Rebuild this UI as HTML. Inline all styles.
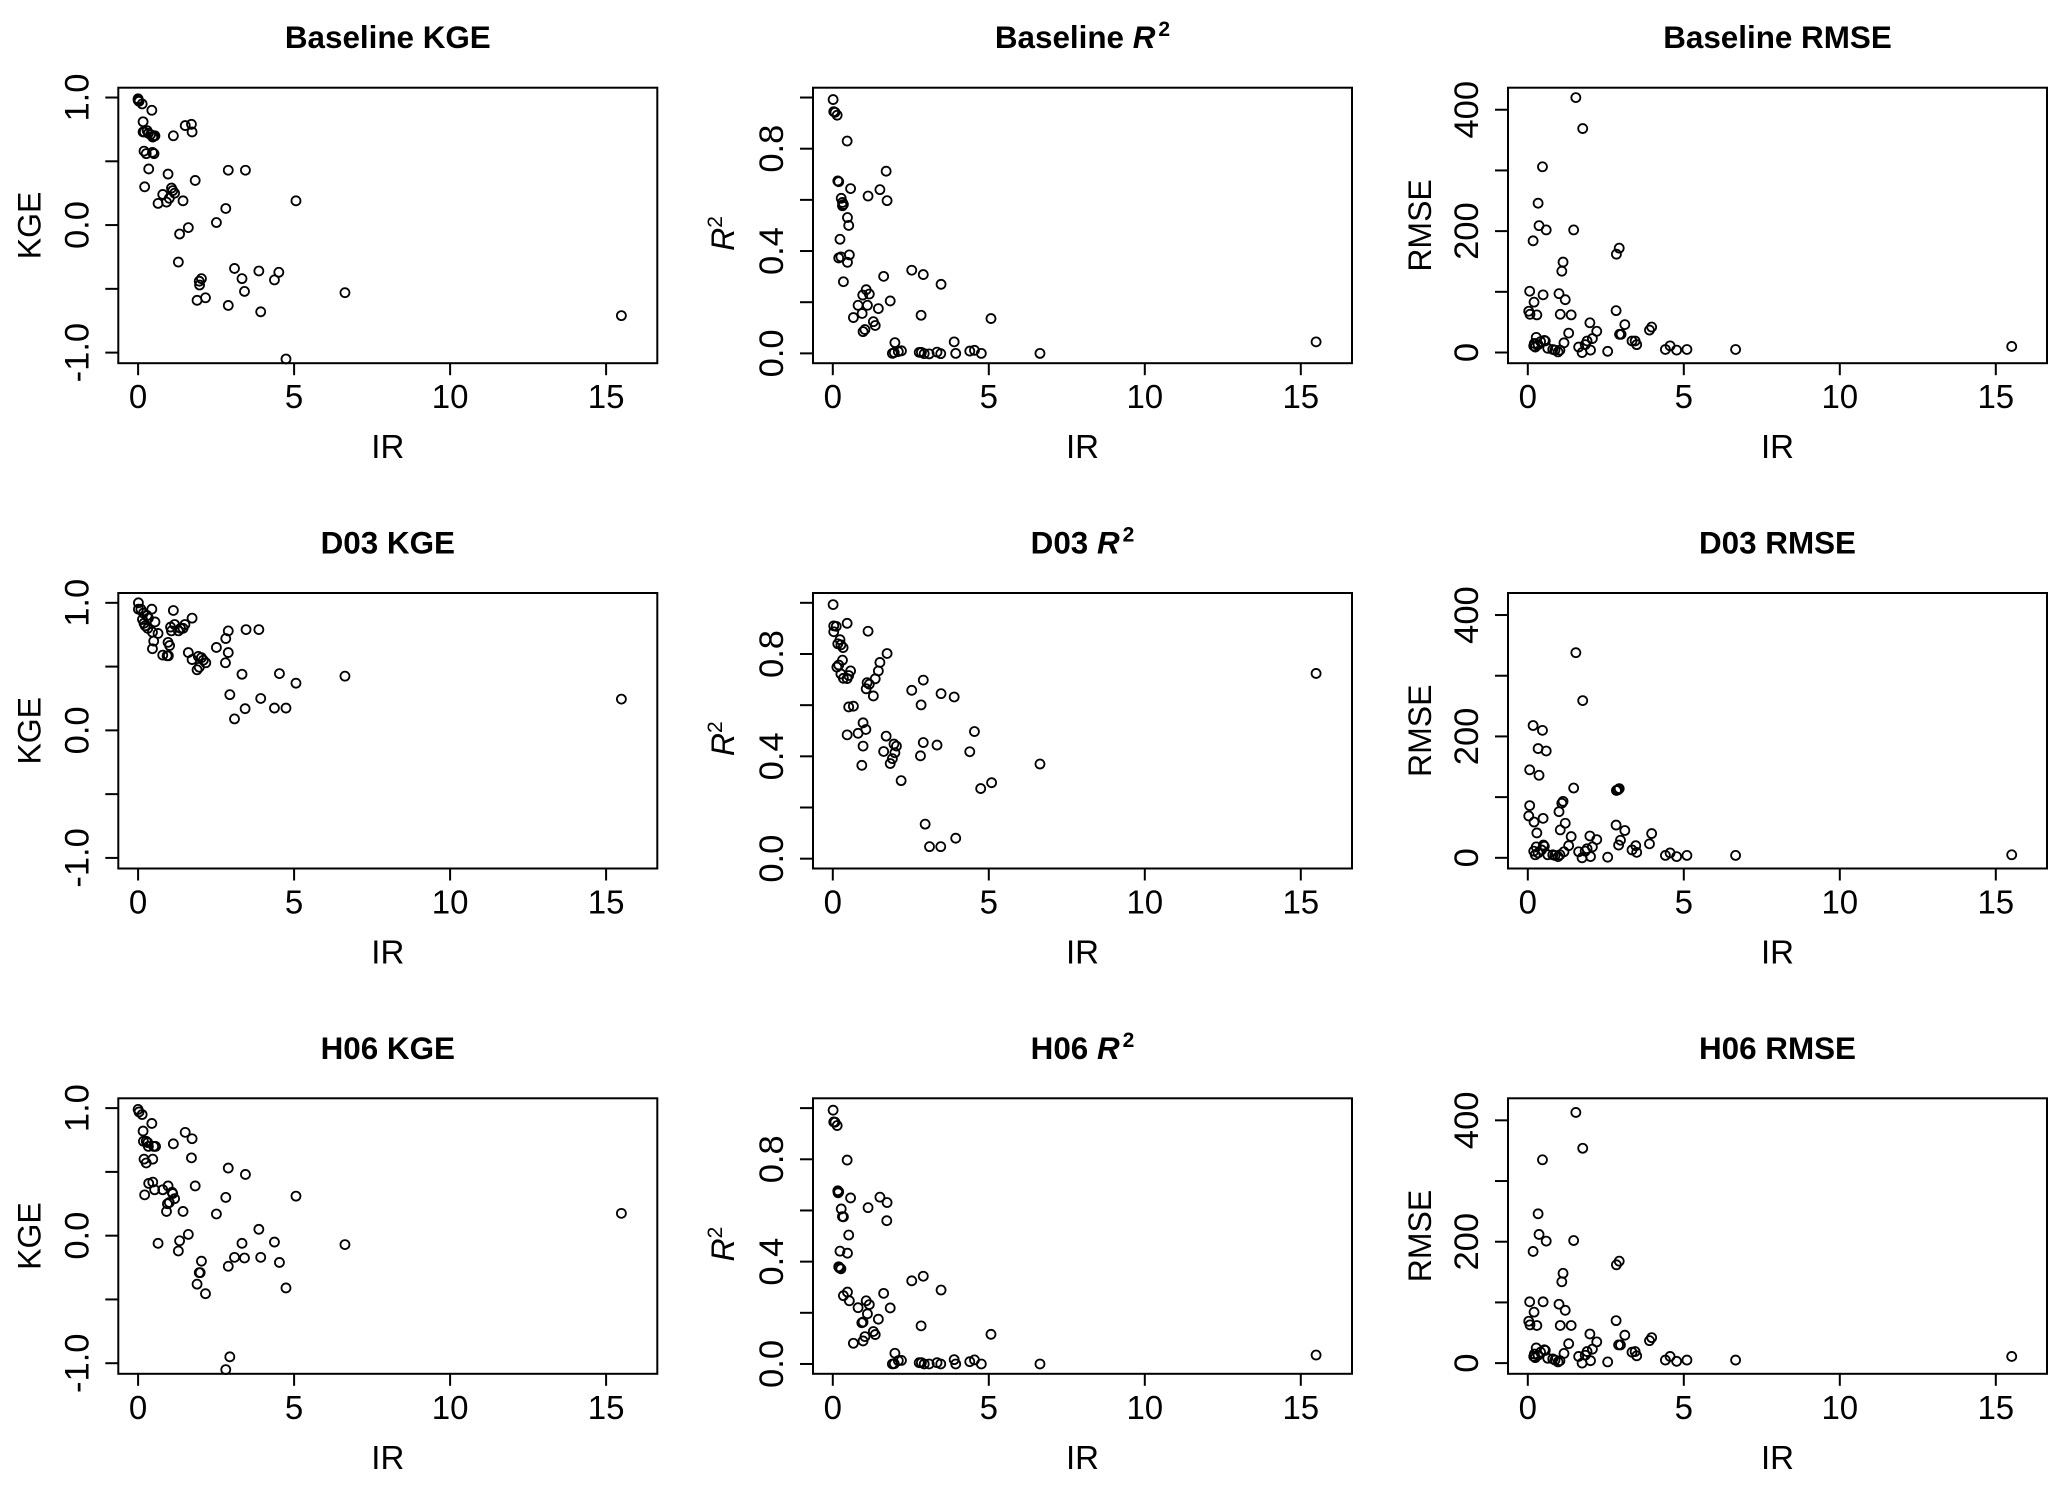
<!DOCTYPE html>
<html lang="en">
<head>
<meta charset="utf-8">
<title>KGE, R2 and RMSE versus IR</title>
<style>
html,body{margin:0;padding:0;background:#fff;}
svg{display:block;font-family:"Liberation Sans",Arial,sans-serif;}
</style>
</head>
<body>
<svg id="chart" xmlns="http://www.w3.org/2000/svg" width="2067" height="1486" viewBox="0 0 2067 1486"></svg>
<script>
// Shared axis data
const xTicks = [0, 5, 10, 15];
const kgeTicks = [-1, -0.5, 0, 0.5, 1];
const kgeTickLabels = ['-1.0', '', '0.0', '', '1.0'];
const r2Ticks = [0, 0.2, 0.4, 0.6, 0.8, 1];
const r2TickLabels = ['0.0', '', '0.4', '', '0.8', ''];
const rmseTicks = [0, 100, 200, 300, 400];
const rmseTickLabels = ['0', '', '200', '', '400'];

// Baseline KGE
const baselineKgeIr = [0,0,0.03,0.13,0.44,0.16,0.16,0.2,0.29,0.33,0.4,0.47,0.5,0.54,1.13,1.51,1.71,1.73,0.19,0.26,0.46,0.51,0.34,0.96,2.89,3.44,1.83,0.21,1.07,1.11,1.17,0.79,1,0.91,0.64,1.44,5.06,2.81,2.51,1.61,1.33,1.29,3.09,3.87,4.51,3.33,4.37,2.03,1.96,1.97,3.41,6.63,2.16,1.89,2.89,3.93,15.49,4.74];
const baselineKgeValues = [0.99,0.98,0.97,0.95,0.9,0.81,0.73,0.73,0.74,0.72,0.71,0.69,0.7,0.7,0.7,0.78,0.79,0.73,0.58,0.56,0.57,0.56,0.44,0.4,0.43,0.43,0.35,0.3,0.29,0.27,0.25,0.24,0.21,0.18,0.17,0.19,0.19,0.13,0.02,-0.02,-0.07,-0.29,-0.34,-0.36,-0.37,-0.42,-0.43,-0.42,-0.44,-0.47,-0.52,-0.53,-0.57,-0.59,-0.63,-0.68,-0.71,-1.05];

// Baseline R2
const baselineR2Ir = [0.01,0.03,0.07,0.14,0.46,1.71,0.16,0.19,0.57,1.51,1.13,1.74,0.27,0.31,0.31,0.34,0.47,0.51,0.23,0.53,0.26,0.19,0.47,0.34,1.63,2.53,2.9,3.47,1.07,1.17,0.96,1.84,0.81,1.11,1.46,0.94,0.66,2.83,5.07,1.3,1.36,1.03,0.97,1.99,3.89,15.49,1.91,1.97,2.1,2.2,2.77,2.84,2.93,3.09,3.34,3.46,3.94,4.39,4.54,4.76,6.64];
const baselineR2Values = [0.992,0.945,0.942,0.931,0.83,0.712,0.674,0.671,0.644,0.64,0.615,0.597,0.606,0.59,0.577,0.582,0.531,0.5,0.446,0.385,0.377,0.373,0.356,0.28,0.301,0.325,0.308,0.27,0.249,0.232,0.228,0.205,0.188,0.188,0.175,0.156,0.14,0.149,0.136,0.124,0.109,0.093,0.085,0.042,0.045,0.045,0,0.003,0.007,0.01,0.004,0.004,-0.001,-0.002,0.005,-0.001,0,0.009,0.012,0,0];

// Baseline RMSE
const baselineRmseIr = [1.54,1.76,0.47,0.33,0.36,0.59,1.47,0.17,2.93,2.84,1.13,1.09,0.06,0.49,1,1.2,0.2,0.03,0.07,0.29,1.04,1.39,2.83,1.99,3.11,2.21,3.97,3.9,1.31,2.94,2.99,2.07,1.9,1.84,1.16,0.27,0.21,0.19,0.24,0.33,0.41,0.53,0.56,0.64,0.8,0.87,0.97,1.03,1.63,1.74,2.01,2.56,3.34,3.44,3.49,4.41,4.56,4.77,5.1,6.66,15.51];
const baselineRmseValues = [420,369,306,246,209,202,202,184,172,162,149,134,101,95,97,87,83,68,63,62,63,62,69,49,46,35,42,37,32,30,30,23,19,13,16,25,15,11,9,13,18,20,19,7,5,4,1,4,9,0,4,2,19,19,13,5,11,4,5,5,10];

// D03 KGE
const d03KgeIr = [0.01,0.01,0.09,0.44,1.13,0.17,0.29,0.14,0.33,1.73,0.54,0.19,0.23,1.17,1.5,1.04,0.31,1.07,1.29,1.44,1.36,3.46,3.87,2.89,0.46,0.64,2.81,0.5,0.96,1.01,0.46,2.51,2.89,1.61,0.79,0.93,0.97,1.73,1.93,2.03,2.09,2.17,2.8,1.96,1.89,3.33,4.53,5.06,6.63,2.94,3.93,15.49,3.43,4.37,4.74,3.09];
const d03KgeValues = [1,0.95,0.95,0.95,0.94,0.92,0.9,0.87,0.88,0.88,0.85,0.84,0.82,0.83,0.83,0.81,0.8,0.78,0.78,0.8,0.8,0.79,0.79,0.78,0.77,0.76,0.72,0.7,0.69,0.665,0.64,0.65,0.61,0.61,0.59,0.585,0.585,0.555,0.58,0.57,0.55,0.53,0.53,0.495,0.475,0.44,0.445,0.37,0.425,0.28,0.25,0.245,0.17,0.175,0.175,0.09];

// D03 R2
const d03R2Ir = [0.01,0.03,0.11,0.46,0.03,1.13,0.23,0.16,0.26,0.33,1.74,1.51,0.31,0.19,0.13,1.46,0.57,0.26,0.34,0.51,0.46,1.36,2.9,1.1,1.17,1.07,2.53,1.3,3.47,3.89,2.83,0.51,0.66,0.97,1.06,4.54,0.46,0.81,1.71,1.96,2.04,2.9,3.34,0.97,1.63,4.39,1.99,2.81,1.91,1.84,0.93,6.64,2.19,5.09,4.74,2.96,3.94,3.1,3.46,15.49];
const d03R2Values = [0.993,0.91,0.908,0.92,0.887,0.889,0.856,0.84,0.836,0.825,0.802,0.767,0.776,0.757,0.749,0.734,0.734,0.722,0.705,0.716,0.704,0.703,0.698,0.688,0.682,0.664,0.658,0.636,0.645,0.632,0.601,0.593,0.596,0.531,0.505,0.497,0.484,0.49,0.479,0.448,0.44,0.454,0.444,0.44,0.419,0.418,0.414,0.402,0.391,0.372,0.365,0.37,0.305,0.297,0.274,0.135,0.08,0.047,0.047,0.724];

// D03 RMSE
const d03RmseIr = [1.54,1.76,0.17,0.47,0.33,0.59,0.06,0.36,1.47,2.93,2.84,2.89,1.13,1.09,0.06,1,0.03,0.49,0.2,1.2,1.04,0.29,2.83,3.11,1.39,1.99,3.97,3.9,2.21,2.97,2.91,3.46,3.34,3.49,1.31,2.07,1.9,1.84,1.63,1.16,0.27,0.5,0.53,0.44,0.19,0.24,0.33,0.64,0.8,0.87,0.97,1.03,1.74,2.01,2.56,4.41,4.56,4.77,5.1,6.66,15.51];
const d03RmseValues = [338,259,218,210,180,176,145,136,115,114,111,112,93,90,86,76,69,65,59,57,46,41,54,45,35,36,40,23,30,29,21,20,13,9,20,18,15,11,10,10,18,21,19,13,11,5,8,5,5,4,2,5,0,2,1,4,8,2,4,4,5];

// H06 KGE
const h06KgeIr = [0,0.03,0.13,0.44,0.16,1.51,1.73,0.17,0.26,0.31,0.33,0.5,0.56,1.13,0.19,0.26,0.47,1.71,2.89,3.44,0.34,0.47,0.53,0.96,0.79,1.83,0.21,1.09,1.11,1.17,1,0.94,0.91,1.44,2.81,5.06,2.51,15.49,3.87,1.61,1.33,0.64,3.33,4.37,6.63,1.29,3.09,3.41,3.93,2.03,4.53,2.89,1.96,1.99,1.89,4.74,2.16,2.94,2.81];
const h06KgeValues = [0.99,0.97,0.95,0.88,0.82,0.81,0.76,0.74,0.74,0.73,0.7,0.7,0.7,0.72,0.6,0.57,0.6,0.61,0.53,0.48,0.41,0.42,0.36,0.39,0.36,0.39,0.32,0.34,0.33,0.29,0.26,0.25,0.19,0.19,0.3,0.31,0.17,0.175,0.05,0.01,-0.04,-0.06,-0.06,-0.05,-0.07,-0.12,-0.17,-0.175,-0.17,-0.2,-0.21,-0.24,-0.29,-0.29,-0.38,-0.41,-0.455,-0.95,-1.05];

// H06 R2
const h06R2Ir = [0.01,0.03,0.07,0.14,0.46,0.16,0.19,0.17,0.57,1.51,1.74,1.13,0.27,0.31,0.34,1.73,0.51,0.23,0.47,0.19,0.26,0.21,2.53,2.9,3.47,1.63,0.47,0.34,0.53,1.07,1.17,0.81,1.84,1.11,1.46,0.93,0.97,2.83,5.07,1.3,1.36,1.03,0.97,0.66,1.99,15.49,3.89,4.54,4.39,1.91,1.97,2.1,2.2,2.77,2.84,2.93,3.09,3.34,3.46,3.94,4.76,6.64];
const h06R2Values = [0.992,0.946,0.945,0.932,0.797,0.677,0.673,0.669,0.649,0.652,0.631,0.611,0.606,0.576,0.575,0.56,0.504,0.441,0.433,0.38,0.372,0.376,0.325,0.343,0.289,0.276,0.281,0.267,0.247,0.247,0.232,0.22,0.219,0.196,0.175,0.161,0.164,0.149,0.116,0.127,0.115,0.107,0.09,0.081,0.042,0.035,0.017,0.016,0.009,0,0.001,0.013,0.014,0.005,0.005,0,0,0.005,0,0,0,0];

// H06 RMSE
const h06RmseIr = [1.54,1.76,0.47,0.33,0.36,0.59,1.47,0.17,2.93,2.84,1.13,1.09,0.06,0.49,1,1.2,0.2,0.03,0.07,0.29,1.04,1.39,2.83,1.99,3.11,2.21,3.97,3.9,1.31,2.91,2.97,2.07,1.9,1.84,1.16,0.27,0.21,0.19,0.24,0.33,0.41,0.53,0.56,0.64,0.8,0.87,0.97,1.03,1.63,1.74,2.01,2.56,3.34,3.44,3.49,4.41,4.56,4.77,5.1,6.66,15.51];
const h06RmseValues = [413,354,335,246,212,201,202,184,168,162,148,134,101,101,97,87,84,69,63,62,62,62,70,48,46,35,42,37,32,30,30,23,19,13,16,25,15,11,9,13,18,22,21,8,7,5,2,4,11,0,4,2,18,19,12,5,11,3,5,5,11];

const SVG_NS = 'http://www.w3.org/2000/svg';
const svg = document.getElementById('chart');
const PLOT_W = 539;
const PLOT_H = 275.5;
const X_ZERO_OFFSET = 19.8;
const X_UNIT = 31.2;
const TITLE_SIZE = 31.4;
const X_LABEL_SIZE = 33;
const Y_TICK_SIZE = 34.5;
const Y_TITLE_SIZE = 32;

const metrics = {
  kge: { axisLabel: 'KGE', italic: false, ticks: kgeTicks, tickLabels: kgeTickLabels, dMin: -1.083, dMax: 1.077, labelOffset: 78, labelShift: 0 },
  r2: { axisLabel: 'R', italic: true, ticks: r2Ticks, tickLabels: r2TickLabels, dMin: -0.0384, dMax: 1.0384, labelOffset: 79, labelShift: 8 },
  rmse: { axisLabel: 'RMSE', italic: false, ticks: rmseTicks, tickLabels: rmseTickLabels, dMin: -17.6, dMax: 436.3, labelOffset: 77, labelShift: 0 }
};

const panels = [
  { model: 'Baseline', metric: 'kge', left: 118.3, top: 87.7, ir: baselineKgeIr, values: baselineKgeValues },
  { model: 'Baseline', metric: 'r2', left: 813, top: 87.7, ir: baselineR2Ir, values: baselineR2Values },
  { model: 'Baseline', metric: 'rmse', left: 1508, top: 87.7, ir: baselineRmseIr, values: baselineRmseValues },
  { model: 'D03', metric: 'kge', left: 118.3, top: 593, ir: d03KgeIr, values: d03KgeValues },
  { model: 'D03', metric: 'r2', left: 813, top: 593, ir: d03R2Ir, values: d03R2Values },
  { model: 'D03', metric: 'rmse', left: 1508, top: 593, ir: d03RmseIr, values: d03RmseValues },
  { model: 'H06', metric: 'kge', left: 118.3, top: 1098.3, ir: h06KgeIr, values: h06KgeValues },
  { model: 'H06', metric: 'r2', left: 813, top: 1098.3, ir: h06R2Ir, values: h06R2Values },
  { model: 'H06', metric: 'rmse', left: 1508, top: 1098.3, ir: h06RmseIr, values: h06RmseValues }
];

function make(tag, parent, name) {
  const el = document.createElementNS(SVG_NS, tag);
  
  
  parent.appendChild(el);
  return el;
}

function line(parent, name, x1, y1, x2, y2) {
  const el = make('line', parent, name);
  el.setAttribute('x1', x1);
  el.setAttribute('y1', y1);
  el.setAttribute('x2', x2);
  el.setAttribute('y2', y2);
  el.setAttribute('stroke', '#000');
  el.setAttribute('stroke-width', '2');
  return el;
}

function text(parent, name, x, y, str, size, rotate) {
  const el = make('text', parent, name);
  el.setAttribute('x', x);
  el.setAttribute('y', y);
  el.setAttribute('font-size', size);
  el.setAttribute('text-anchor', 'middle');
  el.setAttribute('fill', '#000');
  if (rotate) {
    el.setAttribute('transform', 'rotate(-90 ' + x + ' ' + y + ')');
  }
  if (str) {
    el.textContent = str;
  }
  return el;
}

function span(parent, str, italic, sup, gap) {
  const el = document.createElementNS(SVG_NS, 'tspan');
  el.textContent = str;
  if (italic) {
    el.setAttribute('font-style', 'italic');
  }
  if (sup) {
    el.setAttribute('dy', '-12');
    el.setAttribute('dx', gap);
    el.setAttribute('font-size', '21');
  }
  parent.appendChild(el);
}

panels.forEach(function (p) {
  const m = metrics[p.metric];
  const slug = p.model.toLowerCase() + '-' + p.metric;
  const g = make('g', svg, slug + '-panel');

  const xScale = function (v) { return p.left + X_ZERO_OFFSET + v * X_UNIT; };
  const yScale = function (v) { return p.top + (m.dMax - v) / (m.dMax - m.dMin) * PLOT_H; };
  const bottom = p.top + PLOT_H;
  const cx = p.left + PLOT_W / 2;

  // Title
  const title = text(g, slug + '-title', cx, p.top - 39.5, '', TITLE_SIZE, false);
  title.setAttribute('font-weight', 'bold');
  if (p.metric === 'r2') {
    span(title, p.model + ' ', false, false, 0);
    span(title, 'R', true, false, 0);
    span(title, '2', false, true, 3);
  } else {
    span(title, p.model + ' ' + m.axisLabel, false, false, 0);
  }

  // Plot box
  const box = make('rect', g, slug + '-plot-frame');
  box.setAttribute('x', p.left);
  box.setAttribute('y', p.top);
  box.setAttribute('width', PLOT_W);
  box.setAttribute('height', PLOT_H);
  box.setAttribute('fill', 'none');
  box.setAttribute('stroke', '#000');
  box.setAttribute('stroke-width', '2');

  // X axis
  xTicks.forEach(function (t) {
    line(g, slug + '-x-tick', xScale(t), bottom, xScale(t), bottom + 12);
    text(g, slug + '-x-tick-label', xScale(t), bottom + 45, String(t), X_LABEL_SIZE, false);
  });
  text(g, slug + '-x-axis-title', cx, bottom + 95, 'IR', X_LABEL_SIZE, false);

  // Y axis
  m.ticks.forEach(function (t, i) {
    line(g, slug + '-y-tick', p.left - 13, yScale(t), p.left, yScale(t));
    if (m.tickLabels[i]) {
      text(g, slug + '-y-tick-label', p.left - 30, yScale(t), m.tickLabels[i], Y_TICK_SIZE, true);
    }
  });
  const yTitle = text(g, slug + '-y-axis-title', p.left - m.labelOffset, p.top + PLOT_H / 2 + m.labelShift, '', Y_TITLE_SIZE, true);
  if (p.metric === 'r2') {
    span(yTitle, 'R', true, false, 0);
    span(yTitle, '2', false, true, 0);
  } else {
    span(yTitle, m.axisLabel, false, false, 0);
  }

  // Points
  p.ir.forEach(function (x, i) {
    const c = make('circle', g, slug + '-point');
    c.setAttribute('cx', xScale(x));
    c.setAttribute('cy', yScale(p.values[i]));
    c.setAttribute('r', '4.5');
    c.setAttribute('fill', 'none');
    c.setAttribute('stroke', '#000');
    c.setAttribute('stroke-width', '1.8');
  });
});
</script>
</body>
</html>
